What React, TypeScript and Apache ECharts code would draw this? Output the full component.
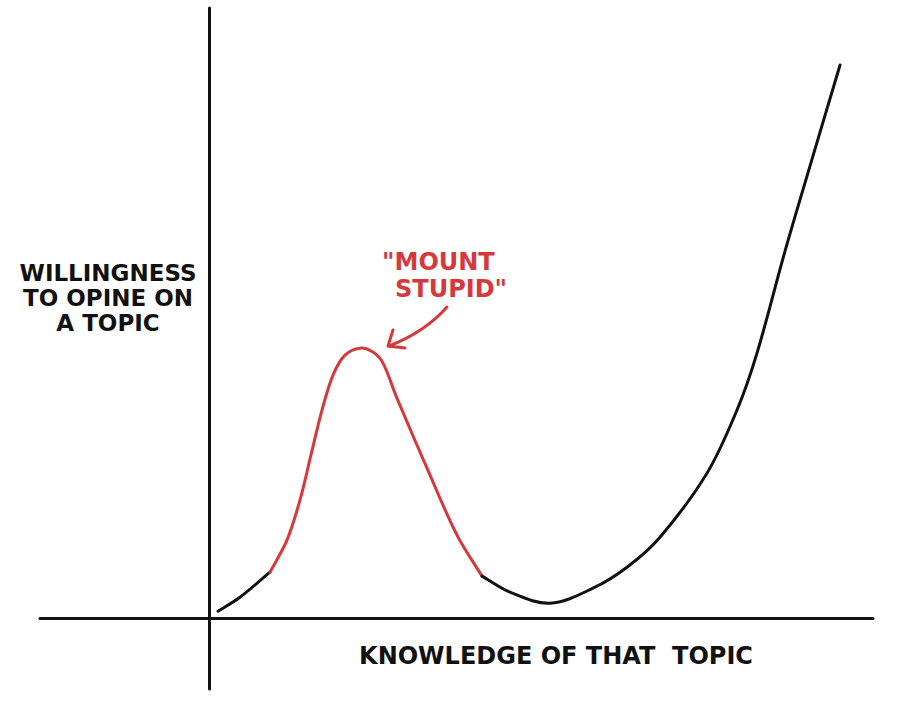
import React, { useEffect, useRef } from "react";
import * as echarts from "echarts";

// Data (knowledge on x, willingness on y)
const knowledge = [
  1.07, 3.67, 7.22, 9.23, 10.77, 12.07, 13.38, 14.68, 16.1, 17.87, 19.41, 20.6, 22.25, 25.81, 29.36,
  32.32, 35.63, 40.36, 45.45, 49.48, 53.39, 58.95, 62.5, 64.87, 68.42, 74.7,
];
const willingness = [
  1.15, 3.44, 7.54, 12.79, 19.34, 26.72, 34.1, 39.84, 43.11, 44.26, 43.61, 41.8, 36.07, 24.59, 13.61,
  6.89, 4.26, 2.46, 4.92, 8.36, 13.28, 23.77, 34.1, 43.44, 61.31, 90.66,
];

// Knowledge range of the red "Mount Stupid" stretch
const mountStart = 7.22;
const mountEnd = 32.32;

const yAxisLabelLines = ["WILLINGNESS", "TO OPINE ON", "A TOPIC"];
const xAxisLabel = "KNOWLEDGE OF THAT  TOPIC";
const peakLabelLines = ["\"MOUNT", "STUPID\""];

const INK = "#111111";
const RED = "#d6393b";
const FONT = "'DejaVu Sans', sans-serif";

// Smooth curve through pixel points (chord-length cubic Hermite as Bezier)
function splinePath(p: number[][]): string {
  const n = p.length;
  const tan = p.map((_, i) => {
    const a = p[Math.max(0, i - 1)];
    const b = p[Math.min(n - 1, i + 1)];
    const dx = b[0] - a[0];
    const dy = b[1] - a[1];
    const len = Math.hypot(dx, dy) || 1;
    return [dx / len, dy / len];
  });
  let d = `M${p[0][0]},${p[0][1]}`;
  for (let i = 0; i < n - 1; i++) {
    const seg = Math.hypot(p[i + 1][0] - p[i][0], p[i + 1][1] - p[i][1]) / 3;
    const c1x = p[i][0] + tan[i][0] * seg;
    const c1y = p[i][1] + tan[i][1] * seg;
    const c2x = p[i + 1][0] - tan[i + 1][0] * seg;
    const c2y = p[i + 1][1] - tan[i + 1][1] * seg;
    d += ` C${c1x},${c1y} ${c2x},${c2y} ${p[i + 1][0]},${p[i + 1][1]}`;
  }
  return d;
}

export default function App() {
  const ref = useRef<HTMLDivElement>(null);

  useEffect(() => {
    if (!ref.current) return;
    const chart = echarts.init(ref.current, null, { renderer: "svg" });

    const iStart = knowledge.indexOf(mountStart);
    const iEnd = knowledge.indexOf(mountEnd);
    const pieces = [
      { from: 0, to: iStart, color: INK },
      { from: iStart, to: iEnd, color: RED },
      { from: iEnd, to: knowledge.length - 1, color: INK },
    ];

    chart.setOption({
      animation: false,
      backgroundColor: "#ffffff",
      grid: { left: 40, right: 49, top: 8, bottom: 18 },
      xAxis: {
        type: "value",
        min: -20,
        max: 78.6,
        axisLine: { show: true, onZero: true, lineStyle: { color: INK, width: 3 } },
        axisTick: { show: false },
        axisLabel: { show: false },
        splitLine: { show: false },
      },
      yAxis: {
        type: "value",
        min: -11.6,
        max: 100,
        axisLine: { show: true, onZero: true, lineStyle: { color: INK, width: 3 } },
        axisTick: { show: false },
        axisLabel: { show: false },
        splitLine: { show: false },
      },
      series: [
        {
          name: "willingness",
          type: "custom",
          data: knowledge.map((k, i) => [k, willingness[i]]),
          encode: { x: 0, y: 1 },
          z: 3,
          renderItem: (params: any, api: any) => {
            if (params.dataIndex !== 0) return null;
            const pts = knowledge.map((k, i) => api.coord([k, willingness[i]]));
            return {
              type: "group",
              children: pieces.map((p) => ({
                type: "path",
                shape: { pathData: splinePath(pts.slice(p.from, p.to + 1)) },
                style: {
                  stroke: p.color,
                  lineWidth: 3,
                  fill: "none",
                  lineCap: "round",
                  lineJoin: "round",
                },
              })),
            };
          },
        },
      ],
      graphic: [
        ...yAxisLabelLines.map((t, i) => ({
          type: "text",
          x: 108,
          y: 273 + i * 25,
          style: {
            text: t,
            fill: INK,
            font: `bold 23px ${FONT}`,
            textAlign: "center",
            textVerticalAlign: "middle",
          },
        })),
        {
          type: "text",
          x: 556,
          y: 656,
          style: {
            text: xAxisLabel,
            fill: INK,
            font: `bold 24px ${FONT}`,
            textAlign: "center",
            textVerticalAlign: "middle",
          },
        },
        ...peakLabelLines.map((t, i) => ({
          type: "text",
          x: i === 0 ? 382 : 395,
          y: 262 + i * 27,
          style: {
            text: t,
            fill: RED,
            font: `bold 24px ${FONT}`,
            textAlign: "left",
            textVerticalAlign: "middle",
          },
        })),
        {
          type: "bezierCurve",
          shape: { x1: 447, y1: 307, x2: 389, y2: 346, cpx1: 425, cpy1: 332 },
          style: { stroke: RED, lineWidth: 3, fill: null, lineCap: "round" },
        },
        {
          type: "polyline",
          shape: { points: [[393, 330], [388, 346], [405, 348]] },
          style: { stroke: RED, lineWidth: 3, fill: null, lineCap: "round", lineJoin: "round" },
        },
      ],
    });

    return () => chart.dispose();
  }, []);

  return (
    <div
      ref={ref}
      style={{ position: "fixed", left: 0, top: 0, width: 922, height: 707 }}
    />
  );
}
